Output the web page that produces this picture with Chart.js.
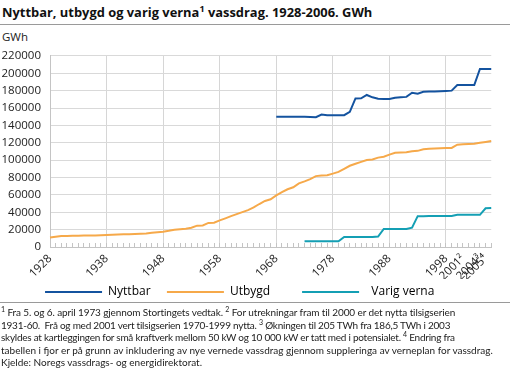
<!DOCTYPE html>
<html>
<head>
<meta charset="utf-8">
<script src="https://cdn.jsdelivr.net/npm/chart.js@4"></script>
<style>
  html, body { margin: 0; padding: 0; background: #fff; }
  body { width: 510px; height: 382px; position: relative; overflow: hidden; font-family: "Open Sans", sans-serif; color: #222; }
  #title { position: absolute; left: 2px; top: 3px; font-weight: bold; font-size: 12.9px; white-space: nowrap; color: #111; }
  #title sup { font-size: 9px; line-height: 0; vertical-align: 5px; }
  #rule1 { position: absolute; left: 0; top: 24px; width: 510px; height: 1px; background: #9a9a9a; }
  #unit { position: absolute; left: 2px; top: 29px; font-size: 11.5px; }
  #wrap { position: absolute; left: 0; top: 40px; width: 510px; height: 268px; }
  #rule2 { position: absolute; left: 0; top: 302px; width: 510px; height: 1px; background: #9a9a9a; }
  #notes { position: absolute; left: 1px; top: 306px; font-family: Lato, sans-serif; font-size: 10px; line-height: 12.6px; white-space: nowrap; color: #222; }
  #notes sup { font-size: 7px; line-height: 0; vertical-align: 4px; }
  #notes .l1 { letter-spacing: -0.11px; }
  #notes .l2 { letter-spacing: -0.24px; }
  #notes .l3 { letter-spacing: -0.25px; }
</style>
</head>
<body>
<div id="title">Nyttbar, utbygd og varig verna<sup>1</sup> vassdrag. 1928-2006. GWh</div>
<div id="rule1"></div>
<div id="unit">GWh</div>
<div id="wrap"><canvas id="c" width="510" height="268"></canvas></div>
<div id="rule2"></div>
<div id="notes"><span class="l1"><sup>1</sup> Fra 5. og 6. april 1973 gjennom Stortingets vedtak. <sup>2</sup> For utrekningar fram til 2000 er det nytta tilsigserien</span><br><span class="l2">1931-60.&nbsp; Frå og med 2001 vert tilsigserien 1970-1999 nytta. <sup>3</sup> Økningen til 205 TWh fra 186,5 TWh i 2003</span><br><span class="l3">skyldes at kartleggingen for små kraftverk mellom 50 kW og 10 000 kW er tatt med i potensialet. <sup>4</sup> Endring fra</span><br>tabellen i fjor er på grunn av inkludering av nye vernede vassdrag gjennom suppleringa av verneplan for vassdrag.<br>Kjelde: Noregs vassdrags- og energidirektorat.</div>
<script>
// Categories: years 1928-2006
const years = [];
for (let y = 1928; y <= 2006; y++) years.push(String(y));

// Tick labels shown on the x axis
const tickYears  = ['1928','1938','1948','1958','1968','1978','1988','1998','2001','2004','2005'];
const tickLabels = ['1928','1938','1948','1958','1968','1978','1988','1998','2001²','2004³','2005⁴'];
const gridYears  = ['1928','1938','1948','1958','1968','1978','1988','1998'];

// Utbygd 1928-2006
const utbygd = [
  10900, 11800, 12600, 12800, 12900, 13000, 13100, 13200, 13300, 13500,
  13800, 14000, 14300, 14600, 14800, 15000, 15300, 15600, 16300, 17000,
  17600, 18600, 19800, 20400, 21100, 22100, 24600, 24800, 27700, 27900,
  30600, 33000, 35500, 37800, 40200, 42500, 45500, 49500, 53000, 55000,
  59500, 63200, 66500, 68800, 73300, 75600, 78200, 81600, 82200, 82700,
  84500, 86500, 90000, 93500, 95800, 98000, 100200, 100700, 102900, 104000,
  106300, 108500, 108800, 109200, 110300, 110700, 112600, 113000, 113400, 113700,
  113900, 114100, 117800, 118200, 118600, 119000, 120000, 121000, 122000
];

// Nyttbar 1968-2006
const nyttbarStart = '1968';
const nyttbar = [
  150000, 150000, 150000, 150000, 150000, 150000, 149800, 149500, 152500, 151600,
  151600, 151600, 151800, 155600, 171000, 171200, 175000, 172300, 170800, 170500,
  170500, 171800, 172300, 172800, 177600, 176500, 178700, 178900, 179100, 179300,
  179600, 180000, 186500, 186500, 186500, 186500, 205000, 205000, 205000
];

// Varig verna 1973-2006
const vernaStart = '1973';
const varigVerna = [
  6700, 6700, 6700, 6700, 6700, 6700, 6700, 11600, 11600, 11600,
  11600, 11600, 11600, 12000, 20800, 20800, 20800, 20800, 20800, 22300,
  35500, 35500, 35600, 35600, 35600, 35700, 35700, 37000, 37000, 37000,
  37000, 37000, 44500, 44800
];

function pad(start, arr) {
  const lead = years.indexOf(start);
  const out = new Array(years.length).fill(null);
  arr.forEach((v, i) => { out[lead + i] = v; });
  return out;
}

const NB = '\u00A0';
const seriesNames = ['Nyttbar', 'Utbygd', 'Varig verna'];
const legendText  = [
  'Nyttbar' + NB.repeat(3),
  'Utbygd' + NB.repeat(8),
  NB.repeat(2) + 'Varig verna' + NB.repeat(5)
];
const colors = ['#14539f', '#f6a94a', '#149fb4'];

const FONT = '"Open Sans", sans-serif';

new Chart(document.getElementById('c'), {
  type: 'line',
  data: {
    labels: years,
    datasets: [
      { label: seriesNames[0], data: pad(nyttbarStart, nyttbar) },
      { label: seriesNames[1], data: utbygd },
      { label: seriesNames[2], data: pad(vernaStart, varigVerna) }
    ].map((d, i) => Object.assign(d, {
      borderColor: colors[i], backgroundColor: colors[i],
      borderWidth: 2, pointRadius: 0, tension: 0, fill: false, spanGaps: false
    }))
  },
  options: {
    responsive: false,
    animation: false,
    layout: { padding: { top: 10, right: 15, left: 0, bottom: 0 } },
    plugins: {
      tooltip: { enabled: false },
      legend: {
        position: 'bottom',
        labels: {
          boxWidth: 57, boxHeight: 2, padding: 7,
          color: '#222',
          font: { family: FONT, size: 12 },
          generateLabels: (chart) => chart.data.datasets.map((ds, i) => ({
            text: legendText[i], fillStyle: colors[i], strokeStyle: colors[i],
            lineWidth: 0, datasetIndex: i, hidden: false
          }))
        }
      }
    },
    scales: {
      x: {
        offset: false,
        grid: {
          color: (ctx) => gridYears.includes(years[ctx.index]) ? '#d6d6d6' : 'rgba(0,0,0,0)',
          tickColor: '#c4c4c4',
          tickLength: -4,
          lineWidth: 1
        },
        border: { color: '#c4c4c4' },
        ticks: {
          autoSkip: false, minRotation: 45, maxRotation: 45, padding: 9,
          color: '#222', font: { family: FONT, size: 11.5 },
          callback: function (value) {
            const k = tickYears.indexOf(this.getLabelForValue(value));
            return k >= 0 ? tickLabels[k] : '';
          }
        },
        afterFit: (s) => { s.height = 32; }
      },
      y: {
        min: 0, max: 220000,
        grid: { color: '#d9d9d9', drawTicks: false, lineWidth: 1 },
        border: { color: '#c4c4c4' },
        ticks: {
          stepSize: 20000, padding: 9, color: '#222', font: { family: FONT, size: 11.5 },
          callback: (v) => String(v)
        },
        afterFit: (s) => { s.width = 50; }
      }
    }
  }
});
</script>
</body>
</html>
